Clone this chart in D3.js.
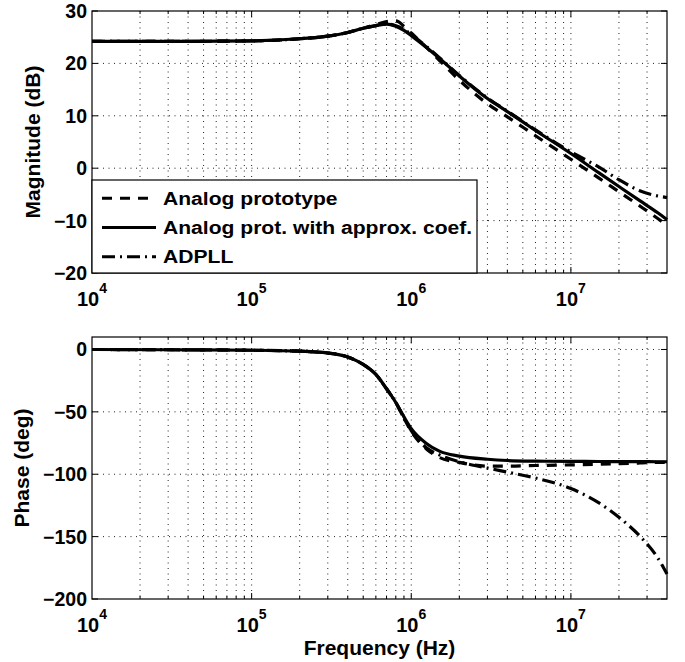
<!DOCTYPE html>
<meta charset="utf-8">
<head>
    <title>ADPLL bode plot</title>
    <script src="https://d3js.org/d3.v7.min.js"></script>
    <style>
        body { margin: 0; background: #ffffff; }
        text { font-family: "Liberation Sans", Arial, sans-serif; font-weight: bold; fill: #000; }
    </style>
</head>
<body>
<svg width="685" height="662"></svg>
<script>

// frequency points (Hz) shared by every series
var freq = [1e4, 3e4, 1e5, 2e5, 3e5, 4e5, 5e5, 6e5, 7e5, 8e5, 9e5, 1e6, 1.25e6, 1.5e6,
            2e6, 3e6, 4e6, 6e6, 1e7, 1.5e7, 2e7, 2.7e7, 3.5e7, 4e7];

// magnitude (dB)
var magProto  = [24.2, 24.2, 24.3, 24.7, 25.2, 25.9, 26.7, 27.4, 28.0, 28.1, 27.1, 25.8, 23.0, 20.6,
                 16.8, 12.3, 9.8, 6.2, 1.7, -1.9, -4.5, -7.2, -9.6, -10.9];
var magApprox = [24.2, 24.2, 24.3, 24.7, 25.2, 25.9, 26.7, 27.2, 27.5, 27.1, 26.3, 25.3, 23.0, 21.0,
                 17.6, 13.3, 10.8, 7.2, 2.8, -0.9, -3.5, -6.2, -8.5, -9.8];
var magAdpll  = [24.2, 24.2, 24.3, 24.7, 25.2, 25.9, 26.7, 27.2, 27.5, 27.2, 26.5, 25.5, 23.2, 21.1,
                 17.7, 13.4, 10.9, 7.3, 3.1, 0.2, -2.2, -4.3, -5.3, -5.6];

// phase (deg)
var phProto  = [0, -0.2, -0.6, -1.4, -2.8, -6.0, -12.0, -20.0, -31.5, -42.5, -55.0, -65.5, -80.0, -86.5,
                -90.5, -93.5, -93.5, -93.0, -92.5, -92.0, -91.5, -91.0, -90.5, -90.5];
var phApprox = [0, -0.2, -0.6, -1.4, -2.8, -6.0, -12.0, -20.0, -31.5, -42.5, -54.0, -63.5, -75.5, -81.5,
                -85.5, -88.0, -89.0, -89.5, -89.7, -89.8, -89.9, -89.9, -90.0, -90.0];
var phAdpll  = [0, -0.2, -0.6, -1.4, -2.8, -6.0, -12.0, -20.0, -31.5, -42.5, -55.0, -65.0, -79.0, -84.5,
                -90.0, -95.0, -98.3, -103.0, -111.5, -123.0, -134.5, -149.5, -167.0, -180.0];

var seriesNames = ["Analog prototype", "Analog prot. with approx. coef.", "ADPLL"];
var seriesDash = ["10,8", null, "13,5,2,5"];

var magTicks = [-20, -10, 0, 10, 20, 30];
var phTicks = [-200, -150, -100, -50, 0];
var decades = [4, 5, 6, 7];

var svg = d3.select("svg");
var left = 92, right = 667;

var x = d3.scaleLog().domain([1e4, 4e7]).range([left, right]);

// every 1..9 x 10^k inside the domain, for the minor grid
var minorFreq = [];
decades.forEach(function(k) {
    for (var m = 1; m <= 9; m++) {
        var f = m * Math.pow(10, k);
        if (f > 1e4 && f < 4e7) minorFreq.push(f);
    }
});

function fmt(d) { return String(d).replace("-", "\u2212"); }

function drawPanel(top, bottom, yDomain, yTicks, series, yLabel, yLabelX) {
    var y = d3.scaleLinear().domain(yDomain).range([bottom, top]);
    var g = svg.append("g");

    // dotted grid
    g.selectAll(".vgrid").data(minorFreq).enter().append("line")
        .attr("x1", function(d) { return x(d); })
        .attr("x2", function(d) { return x(d); })
        .attr("y1", top).attr("y2", bottom)
        .attr("stroke", "#222").attr("stroke-width", 1)
        .attr("stroke-dasharray", "1,4.5");

    g.selectAll(".hgrid").data(yTicks.filter(function(d) { return d > yDomain[0] && d < yDomain[1]; }))
        .enter().append("line")
        .attr("x1", left).attr("x2", right)
        .attr("y1", function(d) { return y(d); })
        .attr("y2", function(d) { return y(d); })
        .attr("stroke", "#222").attr("stroke-width", 1)
        .attr("stroke-dasharray", "1,4.5");

    // ticks on all four sides, pointing in
    var majors = decades.map(function(k) { return Math.pow(10, k); });
    [bottom, top].forEach(function(edge, i) {
        var dir = i == 0 ? -1 : 1;
        g.selectAll(null).data(minorFreq).enter().append("line")
            .attr("x1", function(d) { return x(d); }).attr("x2", function(d) { return x(d); })
            .attr("y1", edge).attr("y2", function(d) { return edge + dir * (majors.indexOf(d) >= 0 ? 6 : 3); })
            .attr("stroke", "#000").attr("stroke-width", 1);
    });
    [left, right].forEach(function(edge, i) {
        var dir = i == 0 ? 1 : -1;
        g.selectAll(null).data(yTicks).enter().append("line")
            .attr("x1", edge).attr("x2", edge + dir * 6)
            .attr("y1", function(d) { return y(d); }).attr("y2", function(d) { return y(d); })
            .attr("stroke", "#000").attr("stroke-width", 1);
    });

    // curves
    var line = d3.line()
        .x(function(d) { return x(d[0]); })
        .y(function(d) { return y(d[1]); })
        .curve(d3.curveMonotoneX);

    series.forEach(function(vals, i) {
        g.append("path")
            .datum(freq.map(function(f, j) { return [f, vals[j]]; }))
            .attr("d", line)
            .attr("fill", "none")
            .attr("stroke", "#000")
            .attr("stroke-width", 3.2)
            .attr("stroke-dasharray", seriesDash[i]);
    });

    // box
    g.append("rect")
        .attr("x", left).attr("y", top)
        .attr("width", right - left).attr("height", bottom - top)
        .attr("fill", "none").attr("stroke", "#000").attr("stroke-width", 1.2);

    // y tick labels
    g.selectAll(".ylab").data(yTicks).enter().append("text")
        .attr("x", left - 5)
        .attr("y", function(d) { return y(d); })
        .attr("dy", "0.36em")
        .attr("text-anchor", "end")
        .style("font-size", "19.5px")
        .text(fmt);

    // x tick labels 10^k
    var xl = g.selectAll(".xlab").data(decades).enter().append("text")
        .attr("x", function(d) { return x(Math.pow(10, d)); })
        .attr("y", bottom + 33)
        .attr("text-anchor", "middle")
        .style("font-size", "20px");
    xl.append("tspan").text("10");
    xl.append("tspan").attr("dy", -13).style("font-size", "14px").text(function(d) { return d; });

    g.append("text")
        .attr("transform", "translate(" + yLabelX + "," + (top + bottom) / 2 + ") rotate(-90)")
        .attr("text-anchor", "middle")
        .style("font-size", "21px")
        .text(yLabel);

    return g;
}

var top1 = drawPanel(11, 273, [-20, 30], magTicks, [magProto, magApprox, magAdpll], "Magnitude (dB)", 40);
drawPanel(337, 599, [-200, 10], phTicks, [phProto, phApprox, phAdpll], "Phase (deg)", 28.5);

svg.append("text")
    .attr("x", (left + right) / 2)
    .attr("y", 655)
    .attr("text-anchor", "middle")
    .style("font-size", "21px")
    .text("Frequency (Hz)");

// legend, lower left of the magnitude plot
var legend = top1.append("g");
legend.append("rect")
    .attr("x", left).attr("y", 180)
    .attr("width", 385).attr("height", 93)
    .attr("fill", "#fff").attr("stroke", "#000").attr("stroke-width", 1.2);

var items = legend.selectAll(".item").data(seriesNames).enter().append("g")
    .attr("transform", function(d, i) { return "translate(0," + (198.3 + i * 29.2) + ")"; });

items.append("line")
    .attr("x1", 102).attr("x2", 156)
    .attr("stroke", "#000").attr("stroke-width", 3)
    .attr("stroke-dasharray", function(d, i) { return seriesDash[i]; });

// the legend font in the original is wider than Arial, so stretch it a little
items.append("text")
    .attr("transform", "translate(163,0) scale(1.14,1)")
    .attr("dy", "0.36em")
    .style("font-size", "18.5px")
    .text(function(d) { return d; });

</script>
</body>
